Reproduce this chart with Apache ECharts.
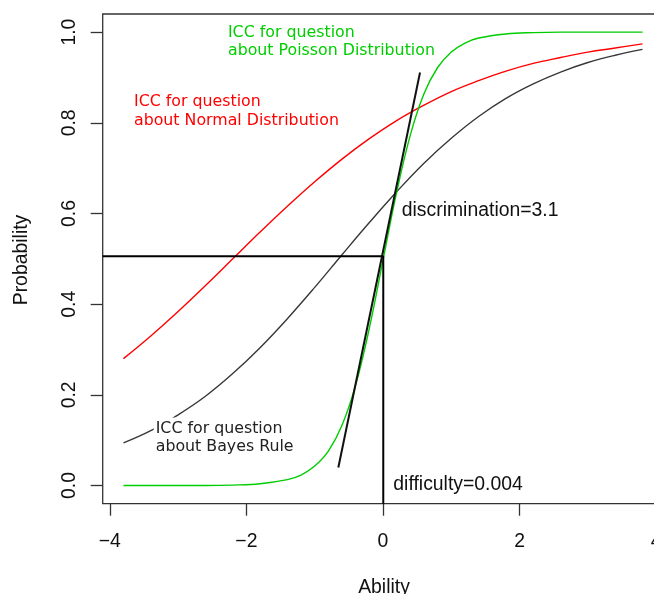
<!DOCTYPE html>
<html><head><meta charset="utf-8">
<script src="https://cdn.jsdelivr.net/npm/echarts@6/dist/echarts.min.js"></script>
<style>html,body{margin:0;padding:0;background:#fff}#c{width:654px;height:594px}</style>
</head><body><div id="c"></div>
<script>
// ---- data ----
const abilityX = [-3.8,-3.4,-3.0,-2.6,-2.2,-1.8,-1.4,-1.0,-0.6,-0.2,0.2,0.6,1.0,1.4,1.8,2.2,2.6,3.0,3.4,3.8];
const normalP  = [0.280,0.330,0.384,0.441,0.500,0.559,0.616,0.670,0.720,0.765,0.805,0.839,0.869,0.893,0.914,0.931,0.944,0.956,0.965,0.974];
const bayesP   = [0.094,0.121,0.156,0.197,0.247,0.304,0.368,0.437,0.509,0.580,0.648,0.711,0.766,0.814,0.854,0.886,0.912,0.933,0.949,0.962];
const poissonX = [-3.8,-3.0,-2.6,-2.2,-1.8,-1.4,-1.2,-1.0,-0.8,-0.6,-0.4,-0.2,0.0,0.2,0.4,0.6,0.8,1.0,1.2,1.4,1.8,2.2,2.6,3.0,3.8];
const poissonP = [0.000,0.000,0.000,0.001,0.004,0.013,0.023,0.043,0.076,0.133,0.222,0.347,0.497,0.647,0.773,0.864,0.922,0.956,0.976,0.987,0.996,0.999,1.000,1.000,1.000];
const tangentX = [-0.654, 0.542];
const tangentY = [0.040, 0.911];
const refX = [-4.104, 0.004, 0.004];
const refY = [0.506, 0.506, -0.04];
const xTicks = [-4,-2,0,2,4];
const yTicks = [0,0.2,0.4,0.6,0.8,1.0];
const annotTexts = ['ICC for question\nabout Poisson Distribution','ICC for question\nabout Normal Distribution','ICC for question\nabout Bayes Rule','discrimination=3.1','difficulty=0.004'];
const annotX = [-2.27,-3.646,-3.328,0.274,0.151];
const annotY = [0.978,0.8255,0.1053,0.607,0.0018];

const zip = (xs, ys) => xs.map((x,i)=>[x, ys[i]]);
const chart = echarts.init(document.getElementById('c'), null, {renderer:'canvas'});
const GREEN = '#00CD00', RED = '#FF0000', DARK = '#383838';
const LIB = '"Liberation Sans", Arial, sans-serif';
const DJV = '"DejaVu Sans", sans-serif';
const FS = 19.4;

chart.setOption({
  animation:false,
  backgroundColor:'#fff',
  grid:{left:102.7, top:14, width:560.6, height:489.7, show:true, borderColor:'#333', borderWidth:1.3, backgroundColor:'transparent', outerBoundsMode:'none', containLabel:false},
  xAxis:{type:'value', min:-4.104, max:4.104,
    axisLine:{show:false, onZero:false}, splitLine:{show:false},
    axisTick:{show:true, customValues:xTicks, length:12, lineStyle:{color:'#333', width:1.3}},
    axisLabel:{show:true, customValues:xTicks, margin:28, fontFamily:LIB, fontSize:FS, color:'#111',
      formatter:v=> (v<0?'\u2212'+Math.abs(v):String(v))}
  },
  yAxis:{type:'value', min:-0.04, max:1.04,
    axisLine:{show:false, onZero:false}, splitLine:{show:false},
    axisTick:{show:true, customValues:yTicks, length:12, lineStyle:{color:'#333', width:1.3}},
    axisLabel:{show:true, customValues:yTicks, rotate:90, margin:24, fontFamily:LIB, fontSize:FS, color:'#111',
      formatter:v=>v.toFixed(1)}
  },
  series:[
    {type:'line', data:zip(abilityX, normalP), smooth:0.4, showSymbol:false, lineStyle:{color:RED, width:1.4}, z:2},
    {type:'line', data:zip(abilityX, bayesP), smooth:0.4, showSymbol:false, lineStyle:{color:DARK, width:1.4}, z:2},
    {type:'line', data:zip(poissonX, poissonP), smooth:0.4, showSymbol:false, lineStyle:{color:GREEN, width:1.4}, z:2},
    {type:'line', data:zip(tangentX, tangentY), showSymbol:false, lineStyle:{color:'#111', width:2}, z:3},
    {type:'line', data:zip(refX, refY), showSymbol:false, lineStyle:{color:'#000', width:2}, z:3}
  ]
});

const colors = [GREEN, RED, '#222', '#111', '#111'];
const fams = [DJV, DJV, DJV, LIB, LIB];
const sizes = [15.8, 15.8, 15.8, FS, FS];
const elems = annotTexts.map((t,i)=>{
  const p = chart.convertToPixel({gridIndex:0}, [annotX[i], annotY[i]]);
  const el = {type:'text', x:p[0], y:p[1], z:100,
    style:{text:t, fill:colors[i], fontSize:sizes[i], fontFamily:fams[i], align:'left', verticalAlign:'middle', lineHeight: i<3?18.3:22}};
  if (i===2) { el.style.backgroundColor='#fff'; el.style.padding=[4,0,0,2]; el.x = p[0]-2; }
  return el;
});
elems.push({type:'text', x:22, y:260, rotation:Math.PI/2, style:{text:'Probability', fill:'#111', fontSize:FS, fontFamily:LIB, align:'center', verticalAlign:'middle'}});
elems.push({type:'text', x:384, y:588, style:{text:'Ability', fill:'#111', fontSize:FS, fontFamily:LIB, align:'center', verticalAlign:'middle'}});
chart.setOption({graphic:{elements:elems}});
</script></body></html>
